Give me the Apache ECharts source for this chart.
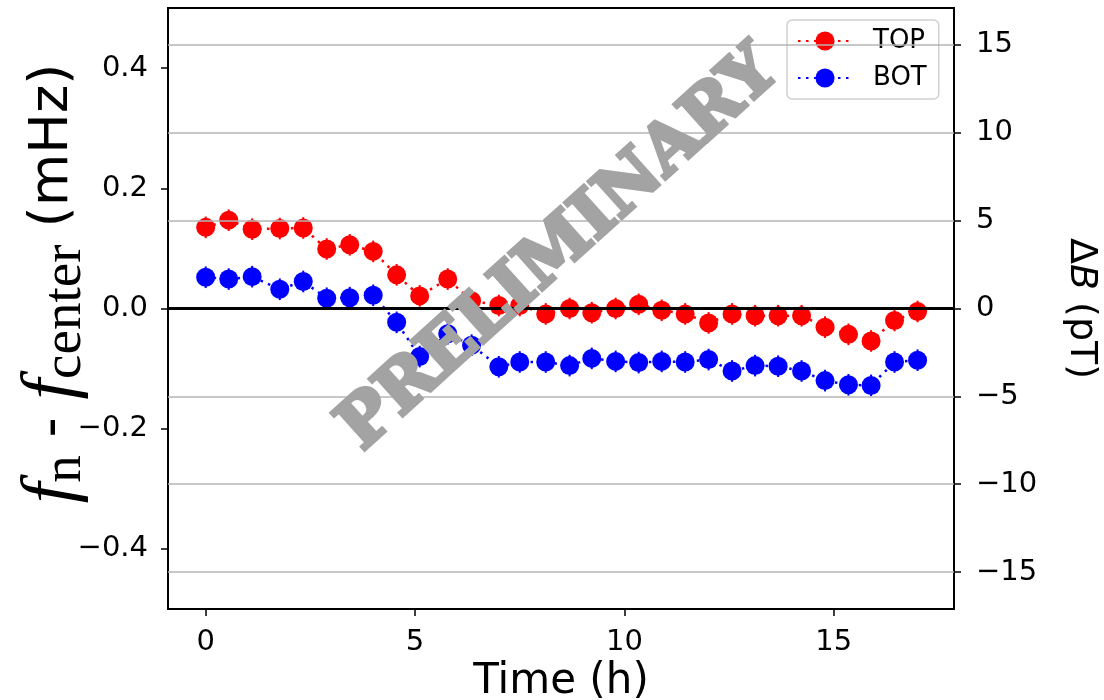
<!DOCTYPE html>
<html>
<head>
<meta charset="utf-8">
<script src="https://cdn.jsdelivr.net/npm/echarts@6/dist/echarts.min.js"></script>
<style>html,body{margin:0;padding:0;background:#fff}#c{width:1104px;height:700px}</style>
</head>
<body>
<div id="c"></div>
<script>
// ---- data ----
const times = [0, 0.55, 1.11, 1.77, 2.33, 2.89, 3.44, 4.0, 4.56, 5.11, 5.78, 6.35, 7.0, 7.5, 8.12, 8.69, 9.22, 9.79, 10.34, 10.89, 11.45, 12.01, 12.57, 13.12, 13.67, 14.23, 14.79, 15.35, 15.89, 16.45, 17.0];
const topVals = [0.135, 0.147, 0.132, 0.133, 0.134, 0.099, 0.106, 0.095, 0.056, 0.021, 0.049, 0.013, 0.005, 0.005, -0.009, 0.0, -0.007, 0.0, 0.007, -0.003, -0.009, -0.024, -0.009, -0.012, -0.012, -0.012, -0.031, -0.043, -0.054, -0.020, -0.005];
const botVals = [0.052, 0.049, 0.053, 0.032, 0.045, 0.017, 0.018, 0.022, -0.023, -0.080, -0.042, -0.061, -0.097, -0.089, -0.089, -0.095, -0.083, -0.088, -0.090, -0.088, -0.089, -0.085, -0.104, -0.095, -0.096, -0.104, -0.120, -0.127, -0.128, -0.089, -0.086];
const topErr = [0.018, 0.018, 0.018, 0.018, 0.018, 0.018, 0.018, 0.018, 0.018, 0.018, 0.018, 0.018, 0.018, 0.018, 0.018, 0.018, 0.018, 0.018, 0.018, 0.018, 0.018, 0.018, 0.018, 0.018, 0.018, 0.018, 0.018, 0.018, 0.018, 0.018, 0.018];
const botErr = [0.018, 0.018, 0.018, 0.018, 0.018, 0.018, 0.018, 0.018, 0.018, 0.018, 0.018, 0.018, 0.018, 0.018, 0.018, 0.018, 0.018, 0.018, 0.018, 0.018, 0.018, 0.018, 0.018, 0.018, 0.018, 0.018, 0.018, 0.018, 0.018, 0.018, 0.018];
const xTicks = [0, 5, 10, 15];
const leftTicks = [-0.4, -0.2, 0.0, 0.2, 0.4];
const rightTicks = [-15, -10, -5, 0, 5, 10, 15];
const seriesNames = ['TOP', 'BOT'];

const RED = '#ff0000', BLUE = '#0000ff';
const TICKFONT = 'DejaVu Sans';

const pts = (ys) => times.map((t, i) => [t, ys[i]]);
const errPts = (ys, es) => times.map((t, i) => [t, ys[i], es[i]]);

function errRender(color) {
  return function (params, api) {
    const x = api.value(0), y = api.value(1), e = api.value(2);
    const a = api.coord([x, y + e]);
    const b = api.coord([x, y - e]);
    return { type: 'line', shape: { x1: a[0], y1: a[1], x2: b[0], y2: b[1] },
             style: { stroke: color, lineWidth: 2 } };
  };
}

const tickStyle = { show: true, length: 7, lineStyle: { color: '#000', width: 1.5 } };

const chart = echarts.init(document.getElementById('c'), null, { renderer: 'canvas' });
chart.setOption({
  animation: false,
  backgroundColor: '#fff',
  grid: { left: 168, top: 8, right: 150, bottom: 91, containLabel: false, outerBoundsMode: 'none',
          show: true, borderColor: '#000', borderWidth: 2, backgroundColor: 'transparent' },
  xAxis: {
    type: 'value', min: -0.9, max: 17.87,
    axisLine: { show: false, onZero: false },
    axisTick: Object.assign({ customValues: xTicks }, tickStyle),
    axisLabel: { customValues: xTicks, fontSize: 29, color: '#000', fontFamily: TICKFONT, margin: 19 },
    splitLine: { show: false },
    name: 'Time (h)', nameLocation: 'middle', nameGap: 52, nameMoveOverlap: false,
    nameTextStyle: { fontSize: 42, color: '#000', fontFamily: TICKFONT }
  },
  yAxis: [
    {
      type: 'value', min: -0.5, max: 0.5, position: 'left',
      axisLine: { show: false, onZero: false },
      axisTick: Object.assign({ customValues: leftTicks }, tickStyle),
      axisLabel: { customValues: leftTicks, fontSize: 29, color: '#000', fontFamily: TICKFONT, margin: 20,
                   formatter: v => (v < 0 ? '\u2212' : '') + Math.abs(v).toFixed(1) },
      splitLine: { show: false },
      name: '{fi|f}{sub|n}{sp| - }{fi|f}{sub|center}{par| (mHz)}',
      nameLocation: 'middle', nameGap: 76, nameMoveOverlap: false,
      nameTextStyle: {
        color: '#000', padding: [0, 0, 0, 50],
        rich: {
          fi: { fontFamily: 'Liberation Serif', fontStyle: 'italic', fontSize: 74, color: '#000', lineHeight: 78 },
          sub: { fontFamily: 'Liberation Serif', fontSize: 55, color: '#000', lineHeight: 78, padding: [26, 0, 0, 0] },
          sp: { fontFamily: 'DejaVu Sans', fontSize: 56, color: '#000', lineHeight: 78 },
          par: { fontFamily: 'DejaVu Sans', fontSize: 54, color: '#000', lineHeight: 78 }
        }
      }
    },
    {
      type: 'value', min: -17.1, max: 17.1, position: 'right',
      axisLine: { show: false, onZero: false },
      axisTick: Object.assign({ customValues: rightTicks }, tickStyle),
      axisLabel: { customValues: rightTicks, fontSize: 29, color: '#000', fontFamily: TICKFONT, margin: 22,
                   formatter: v => (v < 0 ? '\u2212' : '') + Math.abs(v) },
      splitLine: { show: false },
      name: '{d|\u0394}{b|B}{t| (pT)}',
      nameLocation: 'middle', nameRotate: -90, nameGap: 108, nameMoveOverlap: false,
      nameTextStyle: {
        color: '#000',
        rich: {
          d: { fontFamily: 'DejaVu Sans', fontSize: 38, color: '#000' },
          b: { fontFamily: 'DejaVu Sans', fontStyle: 'italic', fontSize: 38, color: '#000' },
          t: { fontFamily: 'DejaVu Sans', fontSize: 38, color: '#000' }
        }
      }
    }
  ],
  legend: {
    orient: 'vertical', left: 787, top: 20,
    data: seriesNames,
    padding: [8, 12, 8, 10],
    backgroundColor: 'rgba(255,255,255,0.75)',
    borderColor: '#d0d0d0', borderWidth: 1.5, borderRadius: 5,
    itemWidth: 54, itemHeight: 24, itemGap: 11,
    textStyle: { fontSize: 26, color: '#000', fontFamily: TICKFONT, padding: [0, 0, 0, 16] }
  },
  graphic: [{
    type: 'text', x: 560, y: 250, rotation: 42 * Math.PI / 180, z: 100,
    style: { text: 'PRELIMINARY', font: 'bold 68px "DejaVu Serif"', fill: '#a3a3a3', stroke: '#a3a3a3', lineWidth: 4,
             align: 'center', verticalAlign: 'middle' }
  }],
  series: [
    {
      name: 'grid', type: 'line', yAxisIndex: 1, data: [], silent: true, z: 1,
      markLine: {
        silent: true, symbol: ['none', 'none'], label: { show: false },
        lineStyle: { color: '#b5b5b5', width: 1.5, type: 'solid' },
        data: rightTicks.filter(v => v !== 0).map(v => ({ yAxis: v }))
      }
    },
    {
      name: 'TOP', type: 'line', data: pts(topVals), yAxisIndex: 0,
      symbol: 'circle', symbolSize: 19, z: 3,
      itemStyle: { color: RED },
      lineStyle: { color: RED, width: 2.5, type: [2.5, 5.5] },
      markLine: {
        silent: true, symbol: ['none', 'none'], label: { show: false },
        lineStyle: { color: '#000', width: 3, type: 'solid' },
        data: [{ yAxis: 0 }]
      }
    },
    {
      name: 'BOT', type: 'line', data: pts(botVals), yAxisIndex: 0,
      symbol: 'circle', symbolSize: 19, z: 3,
      itemStyle: { color: BLUE },
      lineStyle: { color: BLUE, width: 2.5, type: [2.5, 5.5] }
    },
    { name: 'TOPerr', type: 'custom', data: errPts(topVals, topErr), renderItem: errRender(RED), z: 2, silent: true },
    { name: 'BOTerr', type: 'custom', data: errPts(botVals, botErr), renderItem: errRender(BLUE), z: 2, silent: true }
  ]
});
</script>
</body>
</html>
